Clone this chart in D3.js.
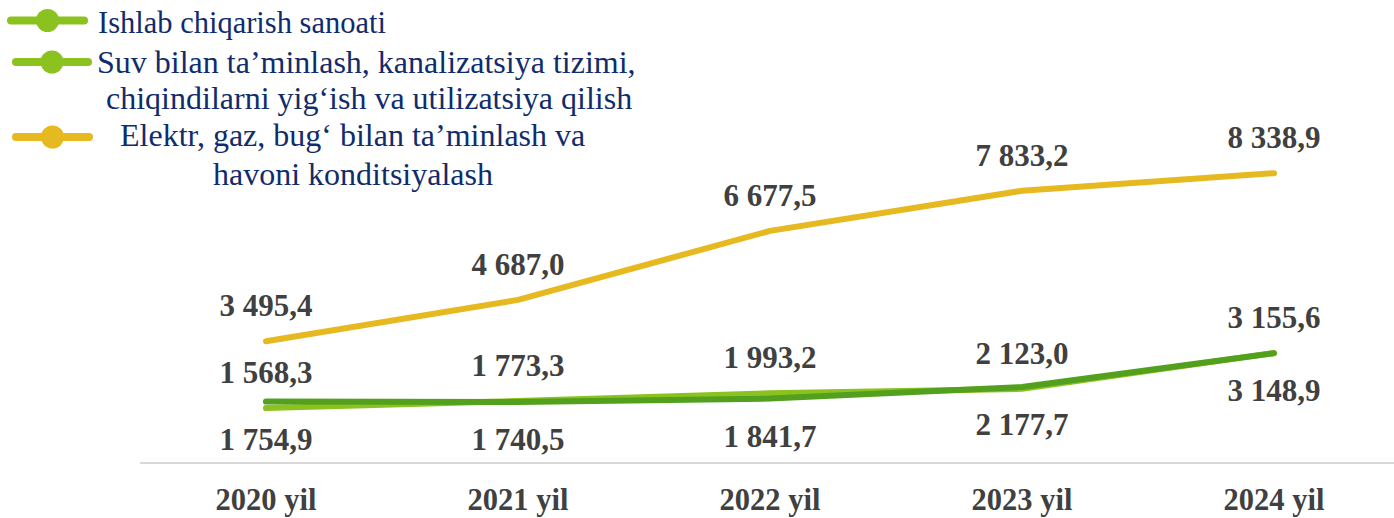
<!DOCTYPE html>
<html>
<head>
<meta charset="utf-8">
<script src="https://cdn.jsdelivr.net/npm/d3@7/dist/d3.min.js"></script>
<style>
  html, body { margin: 0; padding: 0; background: #ffffff; }
  svg { display: block; }
</style>
</head>
<body>
<svg id="chart" width="1394" height="518"></svg>
<script>
// ---- data ----
const categories = ["2020 yil", "2021 yil", "2022 yil", "2023 yil", "2024 yil"];
const seriesNames = [
  ["Ishlab chiqarish sanoati"],
  ["Suv bilan ta’minlash, kanalizatsiya tizimi,", "chiqindilarni yig‘ish va utilizatsiya qilish"],
  ["Elektr, gaz, bug‘ bilan ta’minlash va", "havoni konditsiyalash"]
];
const ishlabValues = [1568.3, 1773.3, 1993.2, 2123.0, 3155.6];
const suvValues = [1754.9, 1740.5, 1841.7, 2177.7, 3148.9];
const elektrValues = [3495.4, 4687.0, 6677.5, 7833.2, 8338.9];

const lineColors = ["#8CC21F", "#52A01E", "#E6B920"];
const legendColors = ["#8CC21F", "#8CC21F", "#E6B920"];
const labelPlacement = ["above", "below", "above"];

const series = [ishlabValues, suvValues, elektrValues];

// ---- scales ----
const svg = d3.select("#chart");
const x = d3.scaleBand().domain(categories).range([140, 1400]);
const cx = c => x(c) + x.bandwidth() / 2;
const y = d3.scaleLinear().domain([0, 10000]).range([462.5, 115.6]);

const serif = "'Liberation Serif', 'Times New Roman', serif";

// axis line + category labels
const axis = d3.axisBottom(x).tickSize(0).tickPadding(0);
const gAxis = svg.append("g").attr("transform", "translate(0,463)").call(axis);
gAxis.select(".domain").attr("stroke", "#D9D9D9").attr("stroke-width", 2).attr("d", "M140,0H1400");
gAxis.selectAll(".tick text")
  .attr("y", 47).attr("dy", null)
  .attr("font-family", serif)
  .attr("font-weight", "bold").attr("font-size", 30.5).attr("fill", "#404040");

// lines
const line = d3.line().x((d, i) => cx(categories[i])).y(d => y(d));
[2, 0, 1].forEach(s => {
  svg.append("path")
    .datum(series[s])
    .attr("d", line)
    .attr("fill", "none")
    .attr("stroke", lineColors[s])
    .attr("stroke-width", 6)
    .attr("stroke-linecap", "round")
    .attr("stroke-linejoin", "round");
});

// value labels
const fmt = v => {
  const parts = v.toFixed(1).split(".");
  const intp = parts[0].replace(/\B(?=(\d{3})+(?!\d))/g, " ");
  return intp + "," + parts[1];
};
series.forEach((vals, s) => {
  svg.append("g").selectAll("text").data(vals).join("text")
    .attr("x", (d, i) => cx(categories[i]))
    .attr("y", d => y(d) + (labelPlacement[s] === "above" ? -25 : 48))
    .attr("text-anchor", "middle")
    .attr("font-family", serif)
    .attr("font-weight", "bold").attr("font-size", 31).attr("fill", "#404040")
    .text(d => fmt(d));
});

// legend
const legendItems = [
  { lineX: [7, 88], cy: 20.5, textX: [98], textY: [33], size: 30.5 },
  { lineX: [12, 92], cy: 62, textX: [97, 106], textY: [73, 109], size: 32 },
  { lineX: [12, 93], cy: 137, textX: [120, 213], textY: [146, 185], size: 32 }
];
legendItems.forEach((it, s) => {
  const g = svg.append("g");
  g.append("line")
    .attr("x1", it.lineX[0] + 4).attr("x2", it.lineX[1] - 4)
    .attr("y1", it.cy).attr("y2", it.cy)
    .attr("stroke", legendColors[s]).attr("stroke-width", 8).attr("stroke-linecap", "round");
  g.append("circle")
    .attr("cx", (it.lineX[0] + it.lineX[1]) / 2).attr("cy", it.cy).attr("r", 11.5)
    .attr("fill", legendColors[s]);
  seriesNames[s].forEach((t, k) => {
    g.append("text")
      .attr("x", it.textX[k]).attr("y", it.textY[k])
      .attr("font-family", serif)
      .attr("font-size", it.size).attr("fill", "#102C6C")
      .text(t);
  });
});
</script>
</body>
</html>
